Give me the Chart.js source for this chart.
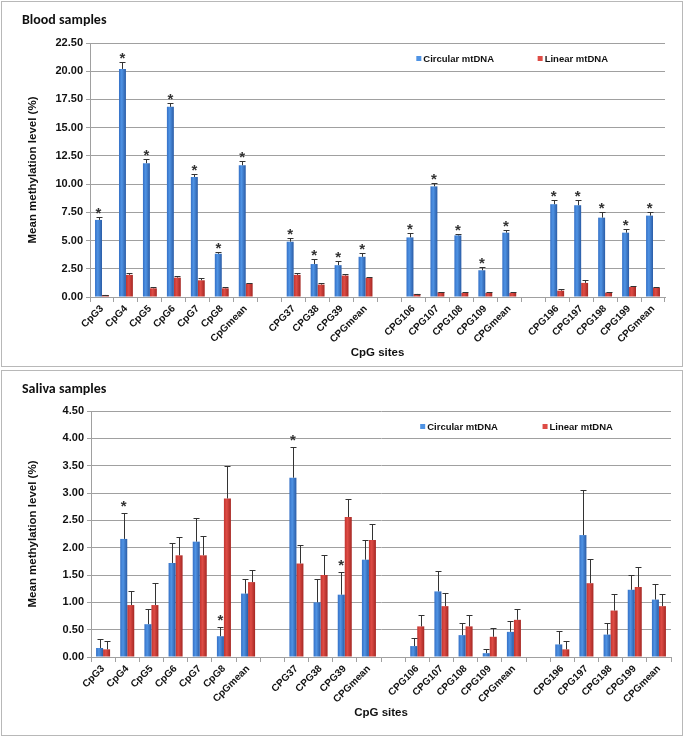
<!DOCTYPE html>
<html>
<head>
<meta charset="utf-8">
<script src="https://cdn.jsdelivr.net/npm/chart.js@4.4.1/dist/chart.umd.min.js"></script>
<style>
  body { margin: 0; background: #fff; width: 685px; height: 738px; position: relative; overflow: hidden; }
  .panel { position: absolute; left: 1px; width: 682px; height: 366px; border: 1px solid #b8b8b8; box-sizing: border-box; background: #fff; }
  .panel canvas { position: absolute; left: 0; top: 0; }
  .ptitle { position: absolute; left: 20px; top: 9px; font: bold 14px Carlito, Lato, "Open Sans", sans-serif; color: #111; line-height: 17px; }
</style>
</head>
<body>
<div class="panel" style="top:1px">
  <canvas id="bloodChart" width="680" height="364"></canvas>
  <div class="ptitle">Blood samples</div>
</div>
<div class="panel" style="top:370px">
  <canvas id="salivaChart" width="680" height="364"></canvas>
  <div class="ptitle">Saliva samples</div>
</div>
<script>
// CpG site labels ('' = spacer between gene regions)
const sites = ['CpG3', 'CpG4', 'CpG5', 'CpG6', 'CpG7', 'CpG8', 'CpGmean', '',
  'CPG37', 'CPG38', 'CPG39', 'CPGmean', '',
  'CPG106', 'CPG107', 'CPG108', 'CPG109', 'CPGmean', '',
  'CPG196', 'CPG197', 'CPG198', 'CPG199', 'CPGmean'];

// Blood samples
const bloodCircular = [6.83, 20.2, 11.85, 16.85, 10.63, 3.83, 11.67, null, 4.9, 2.92, 2.82, 3.56, null, 5.28, 9.8, 5.46, 2.37, 5.7, null, 8.22, 8.13, 7.03, 5.7, 7.21];
const bloodCircularErr = [0.3, 0.6, 0.36, 0.35, 0.29, 0.17, 0.35, null, 0.35, 0.41, 0.33, 0.33, null, 0.36, 0.29, 0.15, 0.27, 0.24, null, 0.39, 0.42, 0.51, 0.3, 0.33];
const bloodLinear = [0.18, 1.96, 0.77, 1.72, 1.48, 0.77, 1.19, null, 1.96, 1.1, 1.9, 1.69, null, 0.27, 0.42, 0.36, 0.36, 0.36, null, 0.56, 1.25, 0.39, 0.89, 0.83];
const bloodLinearErr = [0.03, 0.21, 0.15, 0.12, 0.18, 0.09, 0.09, null, 0.18, 0.18, 0.12, 0.12, null, 0.04, 0.05, 0.04, 0.04, 0.04, null, 0.12, 0.23, 0.08, 0.09, 0.09];
const bloodStars = [0, 1, 2, 3, 4, 5, 6, 8, 9, 10, 11, 13, 14, 15, 16, 17, 19, 20, 21, 22, 23];

// Saliva samples
const salivaCircular = [0.165, 2.16, 0.6, 1.72, 2.11, 0.38, 1.16, null, 3.28, 1.0, 1.14, 1.78, null, 0.2, 1.2, 0.4, 0.07, 0.46, null, 0.23, 2.23, 0.41, 1.23, 1.05];
const salivaCircularErr = [0.165, 0.48, 0.28, 0.37, 0.43, 0.17, 0.26, null, 0.57, 0.42, 0.42, 0.36, null, 0.15, 0.37, 0.23, 0.07, 0.19, null, 0.24, 0.82, 0.22, 0.27, 0.29];
const salivaLinear = [0.14, 0.95, 0.95, 1.86, 1.86, 2.9, 1.37, null, 1.71, 1.5, 2.56, 2.14, null, 0.56, 0.93, 0.56, 0.37, 0.68, null, 0.14, 1.35, 0.85, 1.28, 0.93];
const salivaLinearErr = [0.15, 0.25, 0.41, 0.34, 0.35, 0.6, 0.22, null, 0.33, 0.37, 0.33, 0.3, null, 0.21, 0.24, 0.21, 0.16, 0.19, null, 0.15, 0.45, 0.3, 0.37, 0.22];
const salivaStars = [1, 5, 8, 10];

const seriesNames = ['Circular mtDNA', 'Linear mtDNA'];
const blueStops = ['#3470c6', '#4f93e4', '#2a5ca6'];
const redStops = ['#c2342f', '#de4c45', '#a52723'];

const labelFont = "'Liberation Sans', Arial, sans-serif";

// excel-like shaded bars
function barFill(stops, side) {
  return function (c) {
    const chart = c.chart;
    const x = chart.scales.x;
    if (c.type !== 'data' || !x || !x.width) return stops[1];
    const mid = x.getPixelForValue(c.dataIndex);
    const w = x.width / sites.length * 0.29;
    const left = side === 0 ? mid - w : mid;
    const g = chart.ctx.createLinearGradient(left, 0, left + w, 0);
    g.addColorStop(0, stops[0]);
    g.addColorStop(0.4, stops[1]);
    g.addColorStop(1, stops[2]);
    return g;
  };
}

// error bars, stars and the in-plot legend
const extrasPlugin = {
  id: 'extras',
  afterDatasetsDraw(chart) {
    const ctx = chart.ctx;
    const y = chart.scales.y;
    const ex = chart.options.plugins.extras;
    ctx.save();
    ctx.strokeStyle = '#333';
    ctx.lineWidth = 1;
    chart.data.datasets.forEach(function (ds, di) {
      const meta = chart.getDatasetMeta(di);
      meta.data.forEach(function (bar, i) {
        if (ds.data[i] == null) return;
        const top = y.getPixelForValue(ds.data[i] + ds.errors[i]);
        const cx = Math.round(bar.x) + 0.5;
        ctx.beginPath();
        ctx.moveTo(cx, bar.y);
        ctx.lineTo(cx, Math.round(top) + 0.5);
        ctx.moveTo(cx - 3, Math.round(top) + 0.5);
        ctx.lineTo(cx + 3, Math.round(top) + 0.5);
        ctx.stroke();
      });
    });
    // significance stars above circular bars
    const ds0 = chart.data.datasets[0];
    const meta0 = chart.getDatasetMeta(0);
    ctx.fillStyle = '#333';
    ctx.font = 'bold 15px ' + labelFont;
    ctx.textAlign = 'center';
    ctx.textBaseline = 'alphabetic';
    ex.stars.forEach(function (i) {
      const top = y.getPixelForValue(ds0.data[i] + ds0.errors[i]);
      ctx.fillText('*', meta0.data[i].x, top + ex.starGap);
    });
    // legend inside plot
    const area = chart.chartArea;
    const ly = area.top + 16;
    ctx.font = 'bold 9.5px ' + labelFont;
    ctx.textAlign = 'left';
    ctx.textBaseline = 'middle';
    [0.571, 0.782].forEach(function (f, k) {
      const lx = area.left + f * (area.right - area.left);
      ctx.fillStyle = k === 0 ? blueStops[1] : redStops[1];
      ctx.fillRect(lx - 2, ly - 3, 5, 5);
      ctx.fillStyle = '#111';
      ctx.fillText(seriesNames[k], lx + 5, ly);
    });
    ctx.restore();
  }
};

function makeChart(id, circ, circErr, lin, linErr, stars, p) {
  return new Chart(document.getElementById(id), {
    type: 'bar',
    data: {
      labels: sites,
      datasets: [
        { label: seriesNames[0], data: circ, errors: circErr, backgroundColor: barFill(blueStops, 0) },
        { label: seriesNames[1], data: lin, errors: linErr, backgroundColor: barFill(redStops, 1) }
      ]
    },
    options: {
      responsive: false,
      animation: false,
      datasets: { bar: { categoryPercentage: 0.58, barPercentage: 1.0 } },
      layout: { padding: { left: 0, right: p.right, top: p.top, bottom: 0 } },
      plugins: {
        legend: { display: false },
        tooltip: { enabled: false },
        extras: { stars: stars, starGap: p.starGap }
      },
      scales: {
        x: {
          afterFit: function (s) { s.height = p.xHeight; },
          grid: { drawOnChartArea: false, tickLength: 5, color: '#a0a0a0', offset: true },
          border: { color: '#a0a0a0' },
          ticks: {
            autoSkip: false, maxRotation: 45, minRotation: 45, padding: 1,
            color: '#111', font: { family: labelFont, size: 10, weight: 'bold' }
          },
          title: {
            display: true, text: 'CpG sites', color: '#111',
            font: { family: labelFont, size: 11.5, weight: 'bold' },
            padding: { top: 0, bottom: p.xTitlePad }
          }
        },
        y: {
          min: 0, max: p.max,
          afterFit: function (s) { s.width = p.yWidth; },
          grid: { color: '#a0a0a0', tickLength: 4 },
          border: { color: '#a0a0a0' },
          ticks: {
            stepSize: p.step, padding: 3, color: '#111',
            font: { family: labelFont, size: 11, weight: 'bold' },
            callback: function (v) { return v.toFixed(2); }
          },
          title: {
            display: true, text: 'Mean methylation level (%)', color: '#111',
            font: { family: labelFont, size: 11.5, weight: 'bold' },
            padding: { top: 24, bottom: 0 }
          }
        }
      }
    },
    plugins: [extrasPlugin]
  });
}

makeChart('bloodChart', bloodCircular, bloodCircularErr, bloodLinear, bloodLinearErr, bloodStars,
  { max: 22.5, step: 2.5, right: 17, top: 41, xHeight: 69, yWidth: 88, xTitlePad: 6, starGap: 1 });
makeChart('salivaChart', salivaCircular, salivaCircularErr, salivaLinear, salivaLinearErr, salivaStars,
  { max: 4.5, step: 0.5, right: 11, top: 40, xHeight: 78, yWidth: 89, xTitlePad: 15, starGap: -2 });
</script>
</body>
</html>
